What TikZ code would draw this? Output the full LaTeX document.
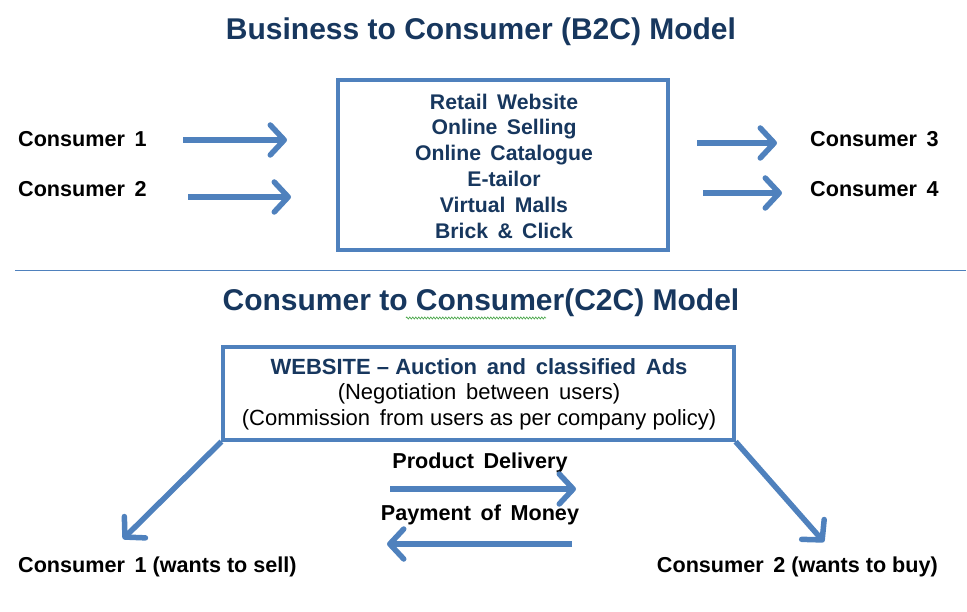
\documentclass[tikz,border=0pt]{standalone}
\usepackage{fontspec}
\setmainfont{Liberation Sans}
\usetikzlibrary{arrows.meta,decorations.pathmorphing}
\definecolor{navy}{RGB}{23,55,94}
\definecolor{bblue}{RGB}{79,129,189}
\definecolor{sqgreen}{RGB}{80,170,80}
\tikzset{
  title/.style={font=\fontsize{30}{34}\selectfont\bfseries, text=navy, inner sep=0pt},
  lbl/.style={font=\fontsize{21.6}{25}\selectfont\bfseries, text=black, inner sep=0pt},
  boxtxt/.style={font=\fontsize{21.2}{25.8}\selectfont\bfseries, text=navy, align=center},
  panel/.style={draw=bblue, line width=3.2pt, fill=white},
  fatarrow/.style={draw=bblue, line width=5.5pt, -{Straight Barb[length=14pt,width=30pt,round]}},
}
\begin{document}
\begin{tikzpicture}[x=1pt,y=-1pt]
\useasboundingbox (0,0) rectangle (967,612);
% B2C
\node[title] (t1) at (481,32) {Business to Consumer (B2C) Model};
\node[panel, minimum width=330pt, minimum height=170pt] (b2c) at (503,165) {};
\node[boxtxt] (b2ctxt) at (504,166) {Retail\ \,Website\\Online\ \,Selling\\Online\ \,Catalogue\\E-tailor\\Virtual\ \,Malls\\Brick\ \,\&\ \,Click};
\node[lbl, anchor=west] (c1) at (18,139) {Consumer\ \,1};
\node[lbl, anchor=west] (c2) at (18,189) {Consumer\ \,2};
\node[lbl, anchor=west] (c3) at (810,139) {Consumer\ \,3};
\node[lbl, anchor=west] (c4) at (810,189) {Consumer\ \,4};
\coordinate (a1s) at (183,140); \coordinate (a1e) at (287,140);
\coordinate (a2s) at (188,197); \coordinate (a2e) at (291,197);
\coordinate (a3s) at (697,143); \coordinate (a3e) at (777,143);
\coordinate (a4s) at (703,193); \coordinate (a4e) at (782,193);
\draw[fatarrow] (a1s) -- (a1e);
\draw[fatarrow] (a2s) -- (a2e);
\draw[fatarrow] (a3s) -- (a3e);
\draw[fatarrow] (a4s) -- (a4e);
% separator
\coordinate (sepL) at (15,271); \coordinate (sepR) at (966,271);
\draw[bblue, line width=1pt] (sepL) -- (sepR);
% C2C
\node[title] (t2) at (481,303) {Consumer to Consumer(C2C) Model};
\coordinate (sqL) at (406,318); \coordinate (sqR) at (546,318);
\draw[sqgreen, line width=0.7pt, decorate, decoration={zigzag, amplitude=1pt, segment length=3pt}] (sqL) -- (sqR);
\node[panel, minimum width=511pt, minimum height=93pt] (c2c) at (478.5,393.5) {};
\node[font=\fontsize{22}{25.5}\selectfont, align=center, inner sep=0pt] (c2ctxt) at (479,394)
  {{\bfseries\color{navy}WEBSITE -- Auction\ \,and\ \,classified\ \,Ads}\\(Negotiation\ \,between\ \,users)\\(Commission\ \,from users as per company policy)};
\coordinate (tipL) at (123,539);
\coordinate (tipR) at (824,542);
\draw[fatarrow] (c2c.south west) -- (tipL);
\draw[fatarrow] (c2c.south east) -- (tipR);
\node[lbl] (pd) at (480,463) {Product\ \,Delivery};
\node[lbl] (pm) at (480,515) {Payment\ \,of\ \,Money};
\coordinate (pds) at (390,489); \coordinate (pde) at (576,489);
\coordinate (pms) at (572,544); \coordinate (pme) at (387,544);
\draw[fatarrow] (pds) -- (pde);
\draw[fatarrow] (pms) -- (pme);
\node[lbl, anchor=west] (s1) at (18,567) {Consumer\ \,1 (wants to sell)};
\node[lbl, anchor=east] (s2) at (938,567) {Consumer\ \,2 (wants to buy)};
\end{tikzpicture}
\end{document}
